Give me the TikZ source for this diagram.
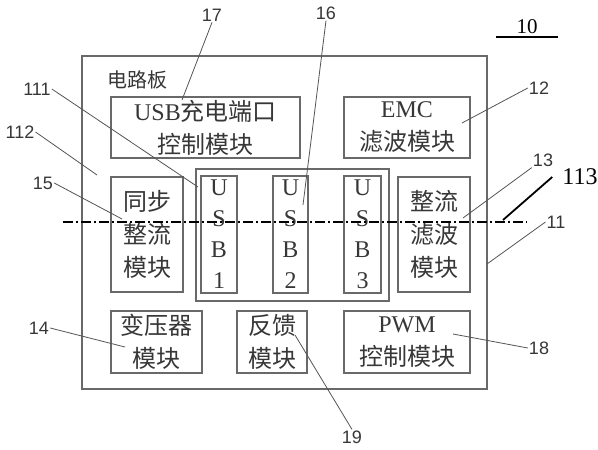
\documentclass[tikz,border=0pt]{standalone}
\usepackage{fontspec}
\setmainfont{Liberation Serif}
\newfontfamily\cjk{Noto Sans CJK SC}
\newfontfamily\numfont{Liberation Sans}
\definecolor{boxgray}{RGB}{105, 105, 105}
\definecolor{textgray}{RGB}{55, 55, 55}
\definecolor{leadgray}{RGB}{85, 85, 85}
\tikzset{
  module/.style={draw=boxgray, line width=1.3pt, inner sep=0pt, align=center,
                 text=textgray, font=\fontsize{24}{33}\selectfont},
  usbbox/.style={module, minimum height=117pt, font=\fontsize{24}{31}\selectfont},
  refnum/.style={inner sep=1pt, text=textgray, font=\numfont\fontsize{18}{18}\selectfont},
  leader/.style={draw=leadgray, line width=0.8pt}
}
\begin{document}
\begin{tikzpicture}[x=1pt, y=-1pt]
            \fill[white] (0,0) rectangle (598,450);
            \useasboundingbox (0,0) rectangle (598,450);
            % board
            \draw[boxgray, line width=1.3pt] (82,56) rectangle (487,389);
            \node[text=textgray, font=\cjk\fontsize{20}{20}\selectfont] (board) at (137,80) {电路板};
            % modules
            \node[module, minimum width=189pt, minimum height=61pt] (usbctl) at (205.5,127.5) {USB{\cjk 充电端口}\\{\cjk 控制模块}};
            \node[module, minimum width=126pt, minimum height=61pt] (emc)    at (407,127.5)   {EMC\\{\cjk 滤波模块}};
            \node[module, minimum width=72pt, minimum height=115pt, font=\cjk\fontsize{24}{33}\selectfont] (syncrect) at (147,234.5) {同步\\整流\\模块};
            \node[module, minimum width=193pt, minimum height=132pt] (usbgroup) at (292.5,235) {};
            \node[usbbox, minimum width=36pt] (usb1) at (219,234.5)   {U\\S\\B\\1};
            \node[usbbox, minimum width=35pt] (usb2) at (290.5,234.5) {U\\S\\B\\2};
            \node[usbbox, minimum width=37pt] (usb3) at (362.5,234.5) {U\\S\\B\\3};
            \node[module, minimum width=72pt, minimum height=115pt, font=\cjk\fontsize{24}{33}\selectfont] (rectfilt) at (434,234.5) {整流\\滤波\\模块};
            \node[module, minimum width=91pt, minimum height=62pt, font=\cjk\fontsize{24}{33}\selectfont] (trans) at (156.5,342) {变压器\\模块};
            \node[module, minimum width=70pt, minimum height=62pt, font=\cjk\fontsize{24}{33}\selectfont] (feedback) at (272,342) {反馈\\模块};
            \node[module, minimum width=126pt, minimum height=62pt] (pwm) at (407,342) {PWM\\{\cjk 控制模块}};
            % axis
            \coordinate (axisL) at (63,222);
            \coordinate (axisR) at (527,222);
            \draw[black, line width=1.2pt, dash pattern=on 10pt off 3pt on 2pt off 3pt] (axisL) -- (axisR);
            % reference numbers
            \node[inner sep=1pt, font=\fontsize{21}{21}\selectfont] (l10) at (527,27) {10};
            \coordinate (u10a) at (496,37);
            \coordinate (u10b) at (558,37);
            \draw[black, line width=1.2pt] (u10a) -- (u10b);
            \node[refnum] (l17)  at (212,15)  {17};
            \node[refnum] (l16)  at (326,13)  {16};
            \node[refnum] (l12)  at (539,88)  {12};
            \node[refnum] (l111) at (37,89)   {111};
            \node[refnum] (l112) at (20,132)  {112};
            \node[refnum] (l15)  at (43,183)  {15};
            \node[refnum] (l13)  at (543,160) {13};
            \node[inner sep=0pt, font=\fontsize{24}{24}\selectfont] (l113) at (580,177) {113};
            \node[refnum] (l11)  at (556,222) {11};
            \node[refnum] (l14)  at (39,328)  {14};
            \node[refnum] (l18)  at (539,348) {18};
            \node[refnum] (l19)  at (352,437) {19};
            % leader ends
            \coordinate (p17)  at (182,100);
            \coordinate (p16)  at (303,205);
            \coordinate (p12)  at (462,123);
            \coordinate (p111) at (198,187);
            \coordinate (p112) at (97,175);
            \coordinate (p15)  at (122,219);
            \coordinate (p13)  at (463,218);
            \coordinate (p113) at (503,220);
            \coordinate (p11)  at (487,264);
            \coordinate (p14)  at (125,347);
            \coordinate (p18)  at (453,334);
            \coordinate (p19)  at (295,335);
            \draw[leader] (l17.south)  -- (p17);
            \draw[leader] (l16.south)  -- (p16);
            \draw[leader] (l12.west)   -- (p12);
            \draw[leader] (l111.east)  -- (p111);
            \draw[leader] (l112.east)  -- (p112);
            \draw[leader] (l15.east)   -- (p15);
            \draw[leader] (l13.south west) -- (p13);
            \draw[black, line width=1.8pt] ([xshift=-10pt]l113.west) -- (p113);
            \draw[leader] (l11.west)   -- (p11);
            \draw[leader] (l14.east)   -- (p14);
            \draw[leader] (l18.west)   -- (p18);
            \draw[leader] (l19.north)  -- (p19);
\end{tikzpicture}
\end{document}
